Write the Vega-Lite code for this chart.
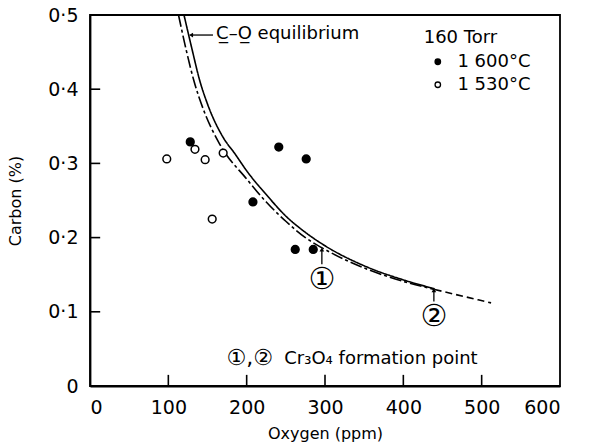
{
  "$schema": "https://vega.github.io/schema/vega-lite/v6.json",
  "autosize": "none",
  "padding": {"left": 90, "top": 15, "right": 30, "bottom": 62},
  "width": 470,
  "height": 371,
  "background": "white",
  "config": {
    "view": {"stroke": "black", "strokeWidth": 1.8},
    "font": "DejaVu Sans",
    "axis": {"grid": false, "ticks": false, "domainColor": "black", "domainWidth": 1.8, "labelColor": "black", "titleColor": "black", "labelFont": "DejaVu Sans", "titleFont": "DejaVu Sans", "titleFontWeight": "normal"}
  },
  "datasets": {
    "curves": [
      {"series": "solid", "O": 120, "C": 0.5},
      {"series": "solid", "O": 130, "C": 0.455},
      {"series": "solid", "O": 140, "C": 0.412},
      {"series": "solid", "O": 150, "C": 0.38},
      {"series": "solid", "O": 170, "C": 0.335},
      {"series": "solid", "O": 185, "C": 0.313},
      {"series": "solid", "O": 200, "C": 0.29},
      {"series": "solid", "O": 225, "C": 0.258},
      {"series": "solid", "O": 250, "C": 0.229},
      {"series": "solid", "O": 275, "C": 0.207},
      {"series": "solid", "O": 300, "C": 0.189},
      {"series": "solid", "O": 350, "C": 0.162},
      {"series": "solid", "O": 400, "C": 0.143},
      {"series": "solid", "O": 440, "C": 0.131},
      {"series": "dashdot", "O": 113, "C": 0.5},
      {"series": "dashdot", "O": 123, "C": 0.452},
      {"series": "dashdot", "O": 133, "C": 0.41},
      {"series": "dashdot", "O": 145, "C": 0.372},
      {"series": "dashdot", "O": 165, "C": 0.327},
      {"series": "dashdot", "O": 200, "C": 0.279},
      {"series": "dashdot", "O": 225, "C": 0.248},
      {"series": "dashdot", "O": 250, "C": 0.222},
      {"series": "dashdot", "O": 275, "C": 0.2},
      {"series": "dashdot", "O": 300, "C": 0.184},
      {"series": "dashdot", "O": 350, "C": 0.159},
      {"series": "dashdot", "O": 400, "C": 0.141},
      {"series": "dashdot", "O": 440, "C": 0.13},
      {"series": "dash", "O": 440, "C": 0.13},
      {"series": "dash", "O": 480, "C": 0.12},
      {"series": "dash", "O": 512, "C": 0.112}
    ],
    "points": [
      {"temp": "1600", "O": 128, "C": 0.329},
      {"temp": "1600", "O": 241, "C": 0.322},
      {"temp": "1600", "O": 276, "C": 0.306},
      {"temp": "1600", "O": 208, "C": 0.248},
      {"temp": "1600", "O": 262, "C": 0.184},
      {"temp": "1600", "O": 285, "C": 0.184},
      {"temp": "1530", "O": 98, "C": 0.306},
      {"temp": "1530", "O": 134, "C": 0.319},
      {"temp": "1530", "O": 147, "C": 0.305},
      {"temp": "1530", "O": 170, "C": 0.314},
      {"temp": "1530", "O": 156, "C": 0.225}
    ],
    "labels": [
      {"O": 161, "C": 0.475, "text": "C̲–O̲   equilibrium"},
      {"O": 426, "C": 0.469, "text": "160 Torr"},
      {"O": 469, "C": 0.437, "text": "1 600°C"},
      {"O": 469, "C": 0.406, "text": "1 530°C"},
      {"O": 248, "C": 0.037, "text": "Cr₃O₄  formation point"}
    ],
    "circled": [
      {"O": 296, "C": 0.143, "text": "①"},
      {"O": 439, "C": 0.093, "text": "②"}
    ],
    "circledNote": [
      {"O": 204, "C": 0.038, "text": "①,②"}
    ],
    "legendDots": [
      {"temp": "1600", "O": 444, "C": 0.437},
      {"temp": "1530", "O": 444, "C": 0.406}
    ],
    "arrows": [
      {"id": "co", "O": 129, "C": 0.473, "O2": 157, "C2": 0.473},
      {"id": "p1", "O": 296, "C": 0.164, "O2": 296, "C2": 0.184},
      {"id": "p2", "O": 439, "C": 0.114, "O2": 439, "C2": 0.129}
    ],
    "ticks": [
      {"O": 100, "C": 0, "O2": 100, "C2": 0.015},
      {"O": 200, "C": 0, "O2": 200, "C2": 0.015},
      {"O": 300, "C": 0, "O2": 300, "C2": 0.015},
      {"O": 400, "C": 0, "O2": 400, "C2": 0.015},
      {"O": 500, "C": 0, "O2": 500, "C2": 0.015},
      {"O": 0, "C": 0.1, "O2": 13, "C2": 0.1},
      {"O": 0, "C": 0.2, "O2": 13, "C2": 0.2},
      {"O": 0, "C": 0.3, "O2": 13, "C2": 0.3},
      {"O": 0, "C": 0.4, "O2": 13, "C2": 0.4}
    ]
  },
  "layer": [
    {
      "data": {"name": "curves"},
      "mark": {"type": "line", "color": "black", "strokeWidth": 1.6, "interpolate": "monotone"},
      "encoding": {
        "x": {"field": "O", "type": "quantitative", "scale": {"domain": [0, 600]},
          "axis": {"values": [0, 100, 200, 300, 400, 500, 600], "labelPadding": 12, "labelFontSize": 19, "title": "Oxygen  (ppm)", "titleFontSize": 16, "titlePadding": 8}},
        "y": {"field": "C", "type": "quantitative", "scale": {"domain": [0, 0.5]},
          "axis": {"values": [0, 0.1, 0.2, 0.3, 0.4, 0.5], "labelExpr": "datum.value == 0 ? '0' : replace(format(datum.value, '.1f'), '.', '·')", "labelPadding": 12, "labelFontSize": 19, "title": "Carbon  (%)", "titleFontSize": 16, "titlePadding": 24}},
        "detail": {"field": "series"},
        "strokeDash": {"field": "series", "type": "nominal", "scale": {"domain": ["solid", "dashdot", "dash"], "range": [[1, 0], [12, 3, 3, 3], [7, 4]]}, "legend": null}
      }
    },
    {
      "data": {"name": "ticks"},
      "mark": {"type": "rule", "color": "black", "strokeWidth": 1.6},
      "encoding": {
        "x": {"field": "O", "type": "quantitative"},
        "y": {"field": "C", "type": "quantitative"},
        "x2": {"field": "O2"},
        "y2": {"field": "C2"}
      }
    },
    {
      "data": {"name": "arrows"},
      "mark": {"type": "rule", "color": "black", "strokeWidth": 1.3},
      "encoding": {
        "x": {"field": "O", "type": "quantitative"},
        "y": {"field": "C", "type": "quantitative"},
        "x2": {"field": "O2"},
        "y2": {"field": "C2"}
      }
    },
    {
      "data": {"name": "arrows"},
      "transform": [{"filter": "datum.id != 'co'"}],
      "mark": {"type": "point", "shape": "triangle-up", "filled": true, "color": "black", "size": 22, "opacity": 1},
      "encoding": {
        "x": {"field": "O2", "type": "quantitative"},
        "y": {"field": "C2", "type": "quantitative"}
      }
    },
    {
      "data": {"name": "arrows"},
      "transform": [{"filter": "datum.id == 'co'"}],
      "mark": {"type": "point", "shape": "triangle-left", "filled": true, "color": "black", "size": 22, "opacity": 1},
      "encoding": {
        "x": {"field": "O", "type": "quantitative"},
        "y": {"field": "C", "type": "quantitative"}
      }
    },
    {
      "data": {"name": "points"},
      "mark": {"type": "point", "shape": "circle", "size": 60, "strokeWidth": 1.5, "stroke": "black", "opacity": 1},
      "encoding": {
        "x": {"field": "O", "type": "quantitative"},
        "y": {"field": "C", "type": "quantitative"},
        "fill": {"field": "temp", "type": "nominal", "scale": {"domain": ["1600", "1530"], "range": ["black", "white"]}, "legend": null}
      }
    },
    {
      "data": {"name": "legendDots"},
      "mark": {"type": "point", "shape": "circle", "size": 30, "strokeWidth": 1.3, "stroke": "black", "opacity": 1},
      "encoding": {
        "x": {"field": "O", "type": "quantitative"},
        "y": {"field": "C", "type": "quantitative"},
        "fill": {"field": "temp", "type": "nominal", "scale": {"domain": ["1600", "1530"], "range": ["black", "white"]}, "legend": null}
      }
    },
    {
      "data": {"name": "labels"},
      "mark": {"type": "text", "align": "left", "baseline": "middle", "fontSize": 18, "color": "black"},
      "encoding": {
        "x": {"field": "O", "type": "quantitative"},
        "y": {"field": "C", "type": "quantitative"},
        "text": {"field": "text"}
      }
    },
    {
      "data": {"name": "circledNote"},
      "mark": {"type": "text", "align": "center", "baseline": "middle", "fontSize": 22, "color": "black"},
      "encoding": {
        "x": {"field": "O", "type": "quantitative"},
        "y": {"field": "C", "type": "quantitative"},
        "text": {"field": "text"}
      }
    },
    {
      "data": {"name": "circled"},
      "mark": {"type": "text", "align": "center", "baseline": "middle", "fontSize": 30, "color": "black"},
      "encoding": {
        "x": {"field": "O", "type": "quantitative"},
        "y": {"field": "C", "type": "quantitative"},
        "text": {"field": "text"}
      }
    }
  ]
}
